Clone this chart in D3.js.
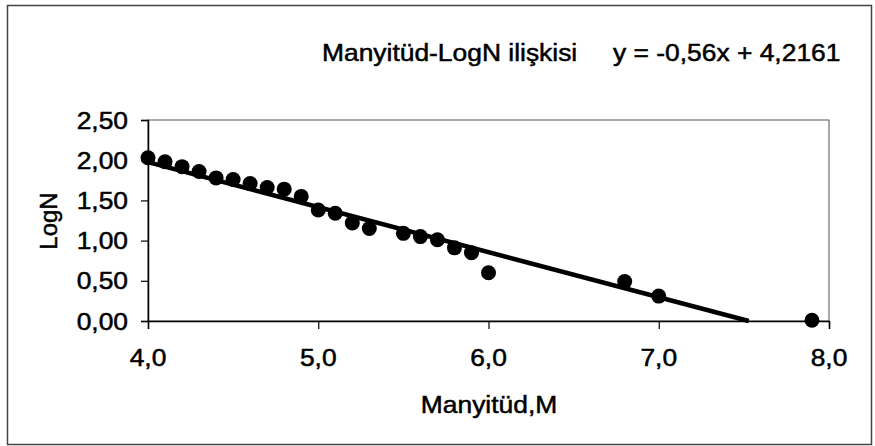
<!DOCTYPE html>
<html>
<head>
<meta charset="utf-8">
<script src="https://cdn.jsdelivr.net/npm/d3@7"></script>
<style>
    body { margin: 0; background: #fff; }
    svg { display: block; }
</style>
</head>
<body>
<svg id="chart"></svg>
<script>
// magnitude values and their log N
const magnitudes = [4.0, 4.1, 4.2, 4.3, 4.4, 4.5, 4.6, 4.7, 4.8, 4.9, 5.0, 5.1, 5.2, 5.3, 5.5, 5.6, 5.7, 5.8, 5.9, 6.0, 6.8, 7.0, 7.9];
const logN = [2.03, 1.98, 1.92, 1.86, 1.78, 1.76, 1.71, 1.66, 1.64, 1.55, 1.38, 1.34, 1.22, 1.15, 1.09, 1.05, 1.01, 0.91, 0.85, 0.60, 0.49, 0.31, 0.01];
// trend line y = slope * x + intercept
const slope = -0.56;
const intercept = 4.2161;
const xTicks = [4, 5, 6, 7, 8];
const yTicks = [0, 0.5, 1, 1.5, 2, 2.5];
const title = 'Manyitüd-LogN ilişkisi';
const equation = 'y = -0,56x + 4,2161';
const xLabel = 'Manyitüd,M';
const yLabel = 'LogN';

const settings = {
    width: 875,
    height: 446,
    margin: { left: 148, top: 120, right: 46, bottom: 125 },
    fontFamily: '"Liberation Sans", Arial, sans-serif',
    fontSize: 24,
    stretch: 1.1
};

function commaFormat(digits) {
    return function (d) { return d3.format('.' + digits + 'f')(d).replace('.', ','); };
}

function styleText(sel) {
    // scanned text looks a little heavier than regular weight
    return sel
        .style('font-family', settings.fontFamily)
        .style('font-size', settings.fontSize + 'px')
        .attr('fill', '#000')
        .attr('stroke', '#000')
        .attr('stroke-width', 0.5);
}

function addText(g, x, y, text, anchor) {
    return styleText(g.append('text')
        .attr('transform', 'translate(' + x + ',' + y + ') scale(' + settings.stretch + ',1)')
        .attr('text-anchor', anchor || 'middle')
        .text(text));
}

function drawChart() {
    const svg = d3.select('#chart')
        .attr('width', settings.width)
        .attr('height', settings.height);

    const w = settings.width - settings.margin.left - settings.margin.right;
    const h = settings.height - settings.margin.top - settings.margin.bottom;

    // outer frame
    svg.append('rect')
        .attr('x', 7.5).attr('y', 5.5)
        .attr('width', 864).attr('height', 439)
        .attr('fill', 'none')
        .attr('stroke', '#444')
        .attr('stroke-width', 1.5);

    const g = svg.append('g')
        .attr('transform', 'translate(' + settings.margin.left + ',' + settings.margin.top + ')');

    const x = d3.scaleLinear().domain([4, 8]).range([0, w]);
    const y = d3.scaleLinear().domain([0, 2.5]).range([h, 0]);

    // plot area border
    g.append('rect')
        .attr('width', w).attr('height', h)
        .attr('fill', 'none')
        .attr('stroke', '#555')
        .attr('stroke-width', 1);

    const yAxis = g.append('g')
        .call(d3.axisLeft(y).tickValues(yTicks).tickSize(7).tickFormat(''));
    const xAxis = g.append('g')
        .attr('transform', 'translate(0,' + h + ')')
        .call(d3.axisBottom(x).tickValues(xTicks).tickSize(8).tickFormat(''));
    [xAxis, yAxis].forEach(function (a) {
        a.select('.domain').attr('stroke', '#000').attr('stroke-width', 1.5);
        a.selectAll('.tick line').attr('stroke', '#000').attr('stroke-width', 1.2);
    });

    // tick labels
    const fy = commaFormat(2);
    yTicks.forEach(function (t) {
        addText(g, -20, y(t) + 8.5, fy(t), 'end');
    });
    const fx = commaFormat(1);
    xTicks.forEach(function (t) {
        addText(g, x(t), h + 45, fx(t));
    });

    // trend line
    const xEnd = -intercept / slope;
    g.append('line')
        .attr('x1', x(4)).attr('y1', y(slope * 4 + intercept))
        .attr('x2', x(xEnd)).attr('y2', y(0))
        .attr('stroke', '#000')
        .attr('stroke-width', 4.5);

    // points
    g.selectAll('.dot')
        .data(magnitudes).enter().append('circle')
        .attr('class', 'dot')
        .attr('cx', function (d) { return x(d); })
        .attr('cy', function (d, i) { return y(logN[i]); })
        .attr('r', 7.5)
        .attr('fill', '#000');

    // titles
    addText(svg, 322, 61, title, 'start');
    addText(svg, 613, 61, equation, 'start');
    addText(svg, 489, 413, xLabel);

    styleText(svg.append('text')
        .attr('transform', 'translate(57,221) rotate(-90)')
        .attr('text-anchor', 'middle')
        .text(yLabel));
}

drawChart();
</script>
</body>
</html>
